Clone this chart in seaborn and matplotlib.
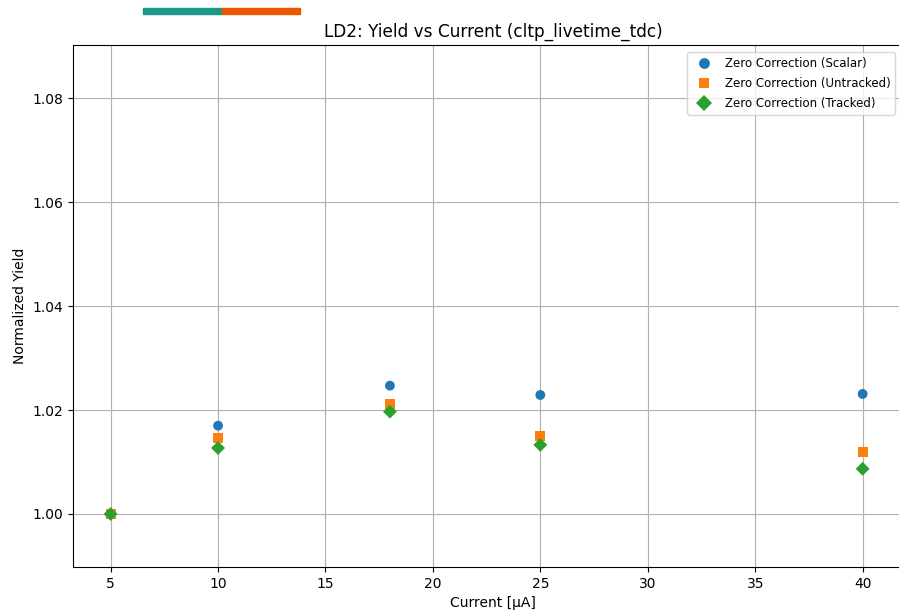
import matplotlib
matplotlib.use("Agg")
import matplotlib.pyplot as plt
from matplotlib.patches import Rectangle
import pandas as pd
import seaborn as sns

# Beam current settings [uA]
currents = [5, 10, 18, 25, 40]

# Normalized yields for each zero-correction method
scalar = [1.0000, 1.0170, 1.0247, 1.0229, 1.0231]
untracked = [1.0000, 1.0147, 1.0212, 1.0150, 1.0120]
tracked = [1.0000, 1.0127, 1.0197, 1.0133, 1.0087]

labels = ["Zero Correction (Scalar)", "Zero Correction (Untracked)", "Zero Correction (Tracked)"]
markers = ["o", "s", "D"]
colors = ["#1f77b4", "#ff7f0e", "#2ca02c"]

frames = []
for lab, vals in zip(labels, [scalar, untracked, tracked]):
    frames.append(pd.DataFrame({"current": currents, "yield": vals, "method": lab}))
df = pd.concat(frames, ignore_index=True)

fig = plt.figure(figsize=(8.99, 6.11), dpi=100)
ax = fig.add_axes([0.0812, 0.072, 0.935, 0.854])

sns.scatterplot(
    data=df, x="current", y="yield", hue="method", style="method",
    hue_order=labels, style_order=labels,
    palette=dict(zip(labels, colors)), markers=dict(zip(labels, markers)),
    s=50, edgecolor="none", linewidth=0, ax=ax, zorder=3,
)

ax.set_xlim(3.25, 42.37)
ax.set_ylim(0.9898, 1.0902)
ax.set_xticks([5, 10, 15, 20, 25, 30, 35, 40])
ax.set_yticks([1.00, 1.02, 1.04, 1.06, 1.08])
ax.set_yticklabels(["1.00", "1.02", "1.04", "1.06", "1.08"])
ax.grid(True, color="#b0b0b0", linewidth=0.8)
ax.set_axisbelow(True)
ax.tick_params(labelsize=10)
ax.spines["right"].set_visible(False)

ax.set_xlabel("Current [μA]", fontsize=10)
ax.set_ylabel("Normalized Yield", fontsize=10)
ax.set_title("LD2: Yield vs Current (cltp_livetime_tdc)", fontsize=12.2)

handles, hl = ax.get_legend_handles_labels()
ax.legend(handles, hl, loc="upper right", bbox_to_anchor=(0.996, 0.915),
          bbox_transform=fig.transFigure, borderaxespad=0, fontsize=8.5,
          labelspacing=0.6, markerscale=1.1, framealpha=0.8, title=None)

# Two-tone header strip
fig.patches.append(Rectangle((143 / 899, 1 - 14 / 611), 79 / 899, 6 / 611,
                             transform=fig.transFigure, color="#1a9988", zorder=5))
fig.patches.append(Rectangle((222 / 899, 1 - 14 / 611), 78 / 899, 6 / 611,
                             transform=fig.transFigure, color="#eb5600", zorder=5))

fig.savefig("out.png", dpi=100)
